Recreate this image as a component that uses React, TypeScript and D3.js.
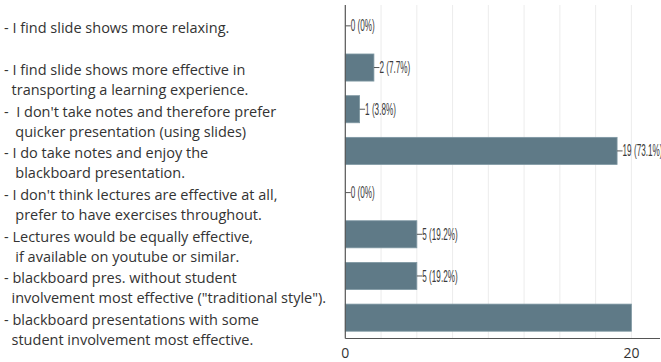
import React from "react";
import * as d3 from "d3";

const categories: string[][] = [
  ["- I find slide shows more relaxing."],
  ["- I find slide shows more effective in", "  transporting a learning experience."],
  ["-  I don't take notes and therefore prefer", "   quicker presentation (using slides)"],
  ["- I do take notes and enjoy the", "   blackboard presentation."],
  ["- I don't think lectures are effective at all,", "   prefer to have exercises throughout."],
  ["- Lectures would be equally effective,", "   if available on youtube or similar."],
  ["- blackboard pres. without student", "  involvement most effective (\"traditional style\")."],
  ["- blackboard presentations with some", "  student involvement most effective."],
];
const values: number[] = [0, 2, 1, 19, 0, 5, 5, 20];
const valueLabels: string[] = ["0 (0%)", "2 (7.7%)", "1 (3.8%)", "19 (73.1%)", "0 (0%)", "5 (19.2%)", "5 (19.2%)", ""];
const tickValues: number[] = [0, 20];
const gridValues: number[] = [2.5, 5, 7.5, 10, 12.5, 15, 17.5, 20];

const W = 661;
const H = 362;

export default function App() {
  const x = d3.scaleLinear().domain([0, 22]).range([345.3, 660]);
  const y = d3
    .scaleBand<number>()
    .domain(d3.range(values.length))
    .range([5, 338.5])
    .paddingInner(0.35)
    .paddingOuter(0.175);
  const bw = y.bandwidth();
  const barColor = "#5f7a87";
  const textColor = "#333";

  return (
    <div style={{ position: "fixed", left: 0, top: 0, background: "#fff" }}>
      <svg width={W} height={H} style={{ display: "block" }}>
        <rect width={W} height={H} fill="#fff" />
        {gridValues.map((g) => (
          <line key={g} x1={x(g)} x2={x(g)} y1={5} y2={338} stroke="#ececec" strokeWidth={1} />
        ))}
        {values.map((v, i) => {
          const y0 = y(i)!;
          const cy = y0 + bw / 2;
          const x1 = x(v);
          return (
            <g key={i}>
              {v > 0 && (
                <rect
                  x={x(0)}
                  y={y0}
                  width={x1 - x(0)}
                  height={bw}
                  fill={barColor}
                  stroke="#7f98a3"
                  strokeWidth={0.8}
                />
              )}
              {valueLabels[i] && (
                <g>
                  <line x1={x1} x2={x1 + 5.5} y1={cy} y2={cy} stroke="#555" strokeWidth={1} />
                  <text
                    transform={`translate(${x1 + 5.5},${cy + 0.5}) scale(0.51,1)`}
                    fontFamily="'Liberation Sans', Arial, sans-serif"
                    fontSize={16}
                    fill="#3a3a3a"
                    dominantBaseline="central"
                  >
                    {valueLabels[i]}
                  </text>
                </g>
              )}
              {categories[i].map((line, j) => (
                <text
                  key={j}
                  x={4}
                  y={cy + 2 + j * 20}
                  fontFamily="'Open Sans', 'Noto Sans', sans-serif"
                  fontSize={14.5}
                  fill={textColor}
                  dominantBaseline="central"
                  style={{ whiteSpace: "pre" }}
                >
                  {line}
                </text>
              ))}
            </g>
          );
        })}
        <line x1={x(0)} x2={x(0)} y1={5} y2={338.5} stroke="#555" strokeWidth={1.2} />
        <line x1={x(0)} x2={660} y1={338.5} y2={338.5} stroke="#555" strokeWidth={1.2} />
        {tickValues.map((t) => (
          <text
            key={t}
            x={x(t)}
            y={352}
            textAnchor="middle"
            dominantBaseline="central"
            fontFamily="'Open Sans', 'Noto Sans', sans-serif"
            fontSize={14}
            fill={textColor}
          >
            {t}
          </text>
        ))}
      </svg>
    </div>
  );
}
